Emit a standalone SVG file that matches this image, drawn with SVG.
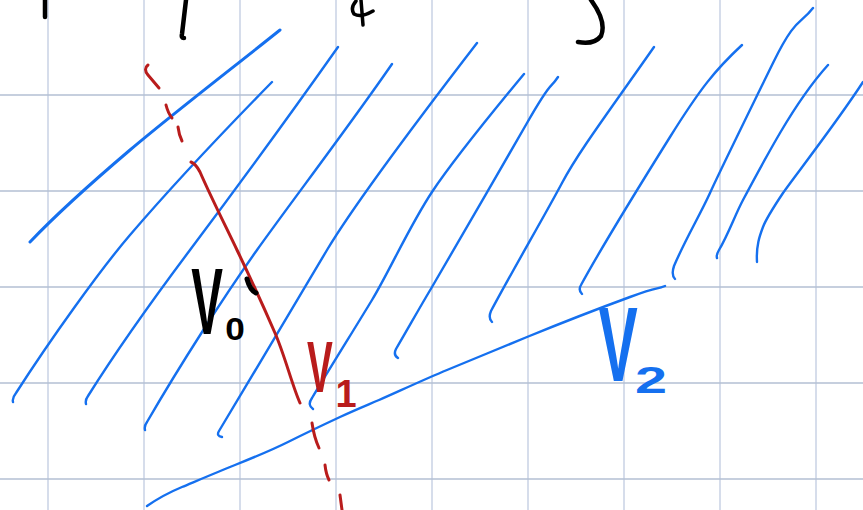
<svg xmlns="http://www.w3.org/2000/svg" width="863" height="510" viewBox="0 0 863 510">
<style>
.gv{stroke:#c8d2e4;stroke-width:1.5}
.gh{stroke:#b3bfd3;stroke-width:1.5}
.b{fill:none;stroke:#1570ef;stroke-width:2.4;stroke-linecap:round;stroke-linejoin:round}
.r{fill:none;stroke:#b91c1c;stroke-width:3;stroke-linecap:round;stroke-linejoin:round}
.k{fill:none;stroke:#000;stroke-width:4.5;stroke-linecap:round;stroke-linejoin:round}
.lbl{font-family:"Liberation Sans",Arial,sans-serif;font-weight:bold;text-anchor:middle}
</style>
<rect width="863" height="510" fill="#fff"/>
<g id="grid">
<line class="gv" x1="48" y1="0" x2="48" y2="510"/>
<line class="gv" x1="144" y1="0" x2="144" y2="510"/>
<line class="gv" x1="240" y1="0" x2="240" y2="510"/>
<line class="gv" x1="336" y1="0" x2="336" y2="510"/>
<line class="gv" x1="432" y1="0" x2="432" y2="510"/>
<line class="gv" x1="528" y1="0" x2="528" y2="510"/>
<line class="gv" x1="624" y1="0" x2="624" y2="510"/>
<line class="gv" x1="720" y1="0" x2="720" y2="510"/>
<line class="gv" x1="816" y1="0" x2="816" y2="510"/>
<line class="gh" x1="0" y1="95" x2="863" y2="95"/>
<line class="gh" x1="0" y1="191" x2="863" y2="191"/>
<line class="gh" x1="0" y1="287" x2="863" y2="287"/>
<line class="gh" x1="0" y1="383" x2="863" y2="383"/>
<line class="gh" x1="0" y1="479" x2="863" y2="479"/>
</g>
<g id="top-marks">
<path class="k" d="M45,0 L45,17"/>
<path class="k" d="M186,0 L182,34 Q181,38 184,38"/>
<path class="k" style="stroke-width:3.5" d="M356,1 Q350,8 354,14 Q361,18 373,11 M361,0 L363,25"/>
<path class="k" d="M591,0 Q607,22 601,36 Q594,45 578,42"/>
</g>
<g id="hatching">
<path class="b" style="stroke-width:3" d="M30,242 C50,221 90,184 130,150 S235,66 280,30"/>
<path class="b" d="M13,402 Q12,398 16,393 C50,340 100,270 130,235 S220,135 272,82"/>
<path class="b" d="M86,404 Q85,400 88,396 C120,345 160,290 190,250 S290,115 338,47"/>
<path class="b" d="M145,430 Q144,426 147,422 C180,365 225,295 257,250 S350,125 392,64"/>
<path class="b" d="M222,437 Q216,436 219,431 C250,380 300,295 327,250 S410,130 477,43"/>
<path class="b" d="M313,409 Q307,405 312,398 C330,368 355,328 372,300 S410,225 432,192 S490,115 524,74"/>
<path class="b" d="M398,358 Q393,355 396,349 C410,325 420,307 432,287 S500,170 527,123 S548,92 558,77"/>
<path class="b" d="M492,322 Q488,318 491,311 C510,275 545,215 562,183 S610,110 654,47"/>
<path class="b" d="M582,294 Q578,290 581,285 C600,250 640,185 670,137 S715,70 742,45"/>
<path class="b" d="M675,279 Q671,275 674,266 C685,240 700,215 710,193 S750,110 773,63 S800,25 813,8"/>
<path class="b" d="M717,258 Q716,255 719,250 C728,235 735,215 743,200 S770,150 780,133 S810,85 828,65"/>
<path class="b" d="M757,262 C756,245 760,235 763,227 S775,205 783,193 S835,125 863,82"/>
</g>
<g id="line-V2">
<path class="b" d="M147,506 C160,497 170,492 182,487 S220,471 235,465 S270,451 288,442 S325,424 340,417 S365,406 379,400 S425,379 447,370 S505,346 527,337 S600,308 630,297 S655,290 665,286"/>
</g>
<g id="line-V1">
<path class="r" d="M148,65 Q143,69 148,75 L159,88"/>
<path class="r" d="M166,105 Q168,113 172,118"/>
<path class="r" d="M178,127 Q179,135 182,141"/>
<path class="r" d="M191,162 Q196,164 200,172 C210,195 225,225 237,250 S265,310 275,333 S292,385 300,403"/>
<path class="r" d="M312,423 Q314,437 319,448"/>
<path class="r" d="M325,465 Q326,474 329,480"/>
<path class="r" d="M340,495 L342,510"/>
</g>
<g id="label-V0">
<text class="lbl" fill="#000" font-size="95" transform="translate(207,334) scale(0.5,1)">V</text>
<text class="lbl" fill="#000" font-size="32" transform="translate(235,340) scale(1.1,1)">0</text>
<path class="k" style="stroke-width:5" d="M247,279 Q250,290 256,293"/>
</g>
<g id="label-V1">
<text class="lbl" fill="#b91c1c" font-size="73" transform="translate(320,392) scale(0.53,1)">V</text>
<text class="lbl" fill="#b91c1c" font-size="38" x="346" y="407">1</text>
</g>
<g id="label-V2">
<text class="lbl" fill="#1570ef" font-size="105" transform="translate(618,381) scale(0.56,1)">V</text>
<text class="lbl" fill="#1570ef" font-size="36" transform="translate(651,393) scale(1.6,1)">2</text>
</g>
</svg>
